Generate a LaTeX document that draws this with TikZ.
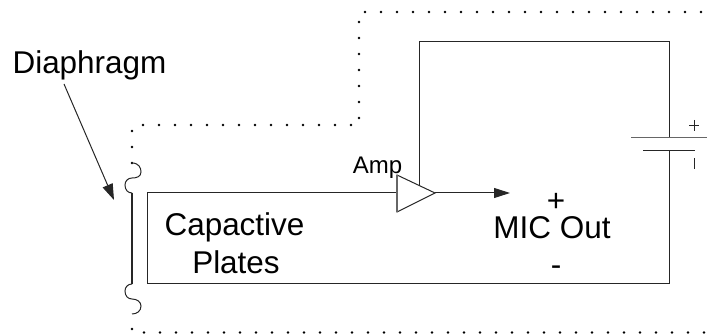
\documentclass[tikz,border=0pt]{standalone}
\usepackage{fontspec}
\setmainfont{Liberation Sans}
\usetikzlibrary{arrows.meta}
\tikzset{
  px/.style={x=0.75pt,y=-0.75pt},
  wire/.style={draw=black!85,line width=0.75pt},
  lbl/.style={inner sep=0pt,anchor=base,text=black,font=\fontsize{23.6pt}{26pt}\selectfont},
  head/.style={-{Triangle[length=12pt,width=7.5pt]}},
}
\begin{document}
\begin{tikzpicture}[px]
\useasboundingbox (0,0) rectangle (710,334);
% dotted screen
\foreach \x in {365,381,...,701} \fill (\x,12) circle (1.05pt);
\foreach \y in {22,38,...,118} \fill (359,\y) circle (1.05pt);
\foreach \x in {143,159,...,351} \fill (\x,125) circle (1.05pt);
\foreach \y in {131,147,163} \fill (132,\y) circle (1.05pt);
\fill (132,329) circle (1.05pt);
\foreach \x in {144,160,...,704} \fill (\x,332.5) circle (1.05pt);
% diaphragm
\draw[wire,line width=1pt] (132,193) -- (132,284);
\draw[wire] (132,163) .. controls (139,163) and (141,168) .. (141,172) .. controls (141,177) and (136,178) .. (132,178) .. controls (128,178) and (125,181) .. (125,185) .. controls (125,190) and (128,193) .. (132,193);
\draw[wire] (132,284) .. controls (128,284) and (125,287) .. (125,291) .. controls (125,296) and (128,299) .. (132,299) .. controls (137,299) and (141,302) .. (141,306) .. controls (141,311) and (137,314) .. (132,314);
% capacitive plate loop
\coordinate (ampin) at (397,193);
\coordinate (ampout) at (435,193);
\coordinate (ampvcc) at (419.5,186);
\coordinate (batbot) at (669,150);
\coordinate (battop) at (669,137);
\draw[wire] (ampin) -- (147,193) -- (147,284) -- (669,284) -- (batbot);
\draw[wire] (ampvcc) -- (419.5,42) -- (669,42) -- (battop);
\draw[draw=black!60,line width=1pt] (631,137.5) -- (707,137.5);
\draw[wire] (643,150.5) -- (695,150.5);
\draw[wire] (689,125.5) -- (699,125.5) (694,120) -- (694,131);
\draw[wire] (694,158) -- (694,169);
% amp
\draw[wire,fill=white] (397,175) -- (435,193) -- (397,212) -- cycle;
\draw[black!60,line width=0.9pt] (397,175) -- (397,212);
\draw[wire,head] (ampout) -- (510,193);
% diaphragm arrow
\coordinate (arrowtail) at (64,84);
\coordinate (arrowtip) at (114,200);
\draw[wire,-{Triangle[length=12pt,width=8pt]}] (arrowtail) -- (arrowtip);
% labels
\node[lbl] (diaph) at (89.5,73.5) {Diaphragm};
\node[lbl] (cap) at (234.5,235.5) {Capactive};
\node[lbl] (plates) at (236,274) {Plates};
\node[lbl] (mic) at (552,239) {MIC Out};
\node[lbl] (plus) at (556,211.5) {+};
\node[lbl] (minus) at (556,276) {-};
\node[inner sep=0pt,anchor=base,font=\fontsize{18pt}{20pt}\selectfont] (amp) at (377.5,173.5) {Amp};
\end{tikzpicture}
\end{document}
